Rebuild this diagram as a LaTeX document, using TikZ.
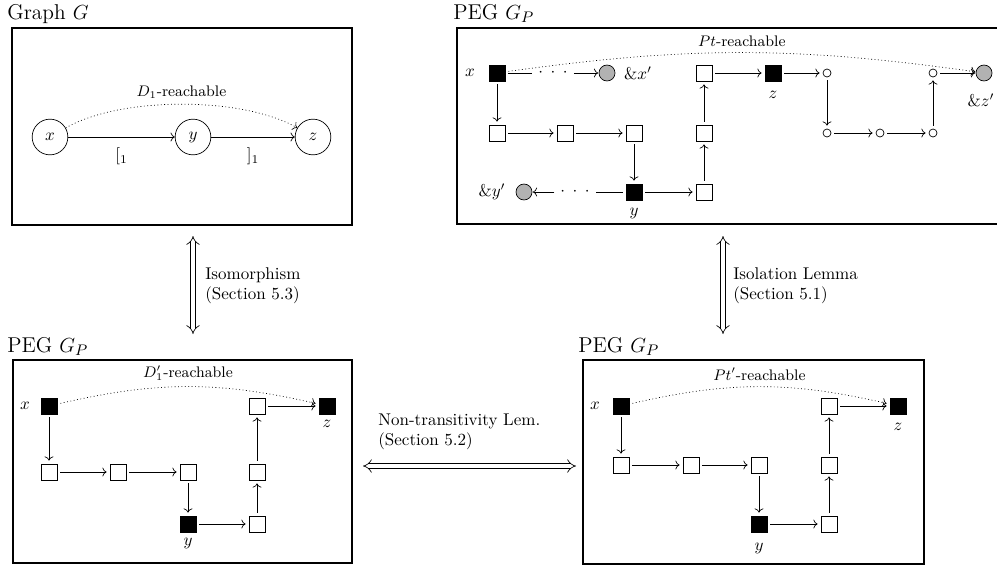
\documentclass[tikz,border=0pt]{standalone}
\usepackage{fontspec}
\usetikzlibrary{arrows.meta}

\newcommand{\spdots}{$\cdot$\hspace{4.5pt}$\cdot$\hspace{4.5pt}$\cdot$}

\tikzset{
  pegbox/.style={line width=0.9pt},
  blk/.style={draw, fill=black, minimum size=9.4pt, inner sep=0pt, outer sep=2pt},
  wht/.style={draw, fill=white, minimum size=9.4pt, inner sep=0pt, outer sep=2pt},
  hole/.style={circle, draw, minimum size=4.7pt, inner sep=0pt, outer sep=2pt},
  addr/.style={circle, draw, fill=gray!60, minimum size=9.4pt, inner sep=0pt, outer sep=0.5pt},
  vtx/.style={circle, draw, minimum size=21pt, inner sep=0pt},
  reach/.style={dash pattern=on 0.5pt off 1.5pt, ->},
  rlabel/.style={above, font=\small},
  dbl/.style={{Implies}-{Implies}, double, double distance=2.4pt},
  ptitle/.style={anchor=base west, font=\fontsize{12.6}{15}\selectfont, inner sep=0pt},
  note/.style={anchor=west, align=left, inner sep=0pt},
}

\begin{document}
\begin{tikzpicture}[x=0.588pt, y=-0.588pt]

% Fix the page size
\useasboundingbox (0,0) rectangle (997,567);
\clip (0,0) rectangle (997,567);

% Titles of the four panels
\node[ptitle] (tg) at (7,19) {Graph $G$};
\node[ptitle] (tp1) at (453,19) {PEG $G_P$};
\node[ptitle] (tp2) at (7,352) {PEG $G_P$};
\node[ptitle] (tp3) at (578,352) {PEG $G_P$};

% Draw the frames
\draw[pegbox] (12,28) rectangle (352,225);
\draw[pegbox] (997,28) -- (457,28) -- (457,224) -- (997,224);
\draw[pegbox] (13,360) rectangle (352,563);
\draw[pegbox] (583,360) rectangle (924,564);

% Graph G
\node[vtx] (gx) at (50,137) {$x$};
\node[vtx] (gy) at (193,137) {$y$};
\node[vtx] (gz) at (313,137) {$z$};
\draw[->] (gx) -- node[below=3pt] (gl1) {$[_1$} (gy);
\draw[->] (gy) -- node[below=3pt] (gl2) {$]_1$} (gz);
\draw[reach] (gx) to[bend left=30, looseness=0.7] node[rlabel] (gr) {$D_1$-reachable} (gz);

% PEG G_P, top right
\node (ax-l) at (470,73) {$x$};
\node[blk] (a1) at (497,73) {};
\node (ad1) at (553,73) {\spdots};
\node[addr] (ax) at (607,73) {};
\node (ax-a) at (638,73) {$\&x'$};
\node[wht] (a4) at (704,73) {};
\node[blk] (az) at (773,73) {};
\node (az-l) at (773,95) {$z$};
\node[hole] (c1) at (827,73) {};
\node[hole] (c4) at (933,73) {};
\node[addr] (az2) at (984,73) {};
\node (az-a) at (981,100) {$\&z'$};

\node[wht] (b1) at (497,133) {};
\node[wht] (b2) at (565,133) {};
\node[wht] (b3) at (634,133) {};
\node[wht] (b4) at (704,133) {};
\node[hole] (c2) at (827,133) {};
\node[hole] (c3) at (880,133) {};
\node[hole] (c5) at (933,133) {};

\node (ay-a) at (492,192) {$\&y'$};
\node[addr] (ay) at (524,192) {};
\node (ad2) at (575,192) {\spdots};
\node[blk] (ny) at (634,192) {};
\node (ny-l) at (634,213) {$y$};
\node[wht] (b5) at (704,192) {};

\draw (a1) -- (ad1);
\draw[->] (ad1) -- (ax);
\draw[->] (a1) -- (b1);
\draw[->] (b1) -- (b2);
\draw[->] (b2) -- (b3);
\draw[->] (b3) -- (ny);
\draw[->] (ny) -- (b5);
\draw[->] (b5) -- (b4);
\draw[->] (b4) -- (a4);
\draw[->] (a4) -- (az);
\draw[->] (az) -- (c1);
\draw[->] (c1) -- (c2);
\draw[->] (c2) -- (c3);
\draw[->] (c3) -- (c5);
\draw[->] (c5) -- (c4);
\draw[->] (c4) -- (az2);
\draw (ny) -- (ad2);
\draw[->] (ad2) -- (ay);
\draw[reach] (a1) to[bend left=8] node[rlabel] (ar) {$Pt$-reachable} (az2);

% PEG G_P, bottom left
\node (qx-l) at (25,406) {$x$};
\node[blk] (q1) at (49,406) {};
\node[wht] (q4) at (257,406) {};
\node[blk] (qz) at (327,406) {};
\node (qz-l) at (327,424) {$z$};
\node[wht] (r1) at (49,472) {};
\node[wht] (r2) at (118,472) {};
\node[wht] (r3) at (188,472) {};
\node[wht] (r4) at (257,472) {};
\node[blk] (qy) at (188,524) {};
\node (qy-l) at (188,543) {$y$};
\node[wht] (r5) at (257,524) {};

\draw[->] (q1) -- (r1);
\draw[->] (r1) -- (r2);
\draw[->] (r2) -- (r3);
\draw[->] (r3) -- (qy);
\draw[->] (qy) -- (r5);
\draw[->] (r5) -- (r4);
\draw[->] (r4) -- (q4);
\draw[->] (q4) -- (qz);
\draw[reach] (q1) to[bend left=13] node[rlabel] (qr) {$D_1'$-reachable} (qz);

% PEG G_P, bottom right
\node (sx-l) at (595,406) {$x$};
\node[blk] (s1) at (621,406) {};
\node[wht] (s4) at (829,406) {};
\node[blk] (sz) at (898,406) {};
\node (sz-l) at (898,427) {$z$};
\node[wht] (t1) at (621,465) {};
\node[wht] (t2) at (691,465) {};
\node[wht] (t3) at (759,465) {};
\node[wht] (t4) at (829,465) {};
\node[blk] (sy) at (759,524) {};
\node (sy-l) at (759,548) {$y$};
\node[wht] (t5) at (829,524) {};

\draw[->] (s1) -- (t1);
\draw[->] (t1) -- (t2);
\draw[->] (t2) -- (t3);
\draw[->] (t3) -- (sy);
\draw[->] (sy) -- (t5);
\draw[->] (t5) -- (t4);
\draw[->] (t4) -- (s4);
\draw[->] (s4) -- (sz);
\draw[reach] (s1) to[bend left=13] node[rlabel] (sr) {$Pt'$-reachable} (sz);

% Double arrows between the panels
\coordinate (v1a) at (193,236);
\coordinate (v1b) at (193,334);
\coordinate (v2a) at (723,236);
\coordinate (v2b) at (723,334);
\coordinate (h1) at (363,466);
\coordinate (h2) at (576,466);
\draw[dbl] (v1a) -- (v1b);
\draw[dbl] (v2a) -- (v2b);
\draw[dbl] (h1) -- (h2);
\node[note] (iso) at (205,286) {Isomorphism\\(Section 5.3)};
\node[note] (iso2) at (733,286) {Isolation Lemma\\(Section 5.1)};
\node[note] (ntl) at (378,432) {Non-transitivity Lem.\\(Section 5.2)};

\end{tikzpicture}
\end{document}
